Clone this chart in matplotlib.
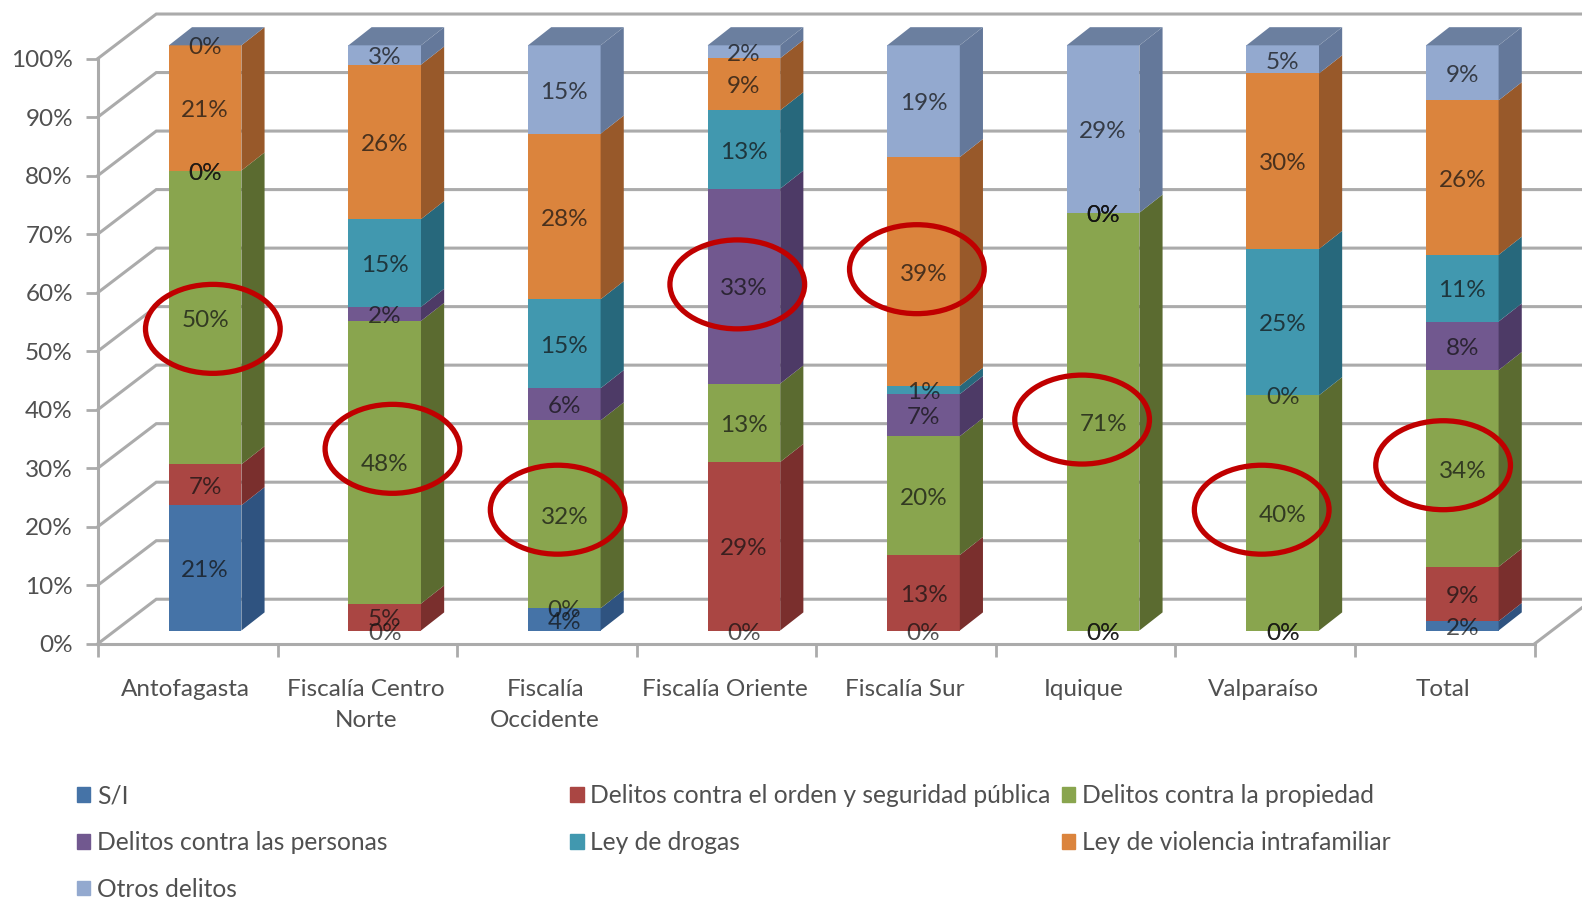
import matplotlib
matplotlib.use("Agg")
import matplotlib.pyplot as plt
from matplotlib.patches import Polygon, Ellipse, Patch
import numpy as np

plt.rcParams['font.family'] = ['Lato', 'DejaVu Sans']

# datos
fiscalias = ["Antofagasta", "Fiscalía Centro\nNorte", "Fiscalía\nOccidente", "Fiscalía Oriente",
             "Fiscalía Sur", "Iquique", "Valparaíso", "Total"]
sin_info = [21.4, 0, 3.8, 0, 0, 0, 0, 1.6]
orden = [7.0, 4.6, 0, 28.8, 12.9, 0, 0, 9.3]
propiedad = [50.2, 48.3, 32.1, 13.4, 20.3, 71.4, 40.2, 33.6]
personas = [0, 2.4, 5.5, 33.3, 7.2, 0, 0, 8.3]
drogas = [0, 15.0, 15.2, 13.4, 1.4, 0, 25.0, 11.4]
violencia = [21.4, 26.4, 28.3, 8.9, 39.1, 0, 30.0, 26.4]
otros = [0, 3.3, 15.1, 2.2, 19.1, 28.6, 4.8, 9.4]

nombres = ["S/I", "Delitos contra el orden y seguridad pública", "Delitos contra la propiedad",
           "Delitos contra las personas", "Ley de drogas", "Ley de violencia intrafamiliar", "Otros delitos"]
series = [sin_info, orden, propiedad, personas, drogas, violencia, otros]
colores = ["#4573A7", "#AA4643", "#89A54E", "#71588F", "#4198AF", "#DB843D", "#93A9CF"]
lados = ["#2F5380", "#7A2F2D", "#5B6B30", "#4D3A66", "#27687C", "#98592A", "#64789A"]

# circulos rojos (x categoria, y porcentaje)
circulo_x = [0.14, 1.14, 2.06, 3.06, 4.06, 4.98, 5.98, 6.99]
circulo_y = [53.8, 33.3, 22.9, 61.4, 64.0, 38.3, 22.9, 30.5]

# profundidad del falso 3D
prof_x, prof_y = 0.325, 7.6
barra_x, barra_y = 0.097, 2.25
lado_x, lado_y = 0.129, 3.1
ancho = 0.404
gris = "#ABABAB"

fig = plt.figure(figsize=(15.82, 9), dpi=100)
ax = fig.add_axes([97.9 / 1582, 1 - 643.7 / 900, (1534.7 - 97.9) / 1582, (643.7 - 58.5) / 900])
ax.set_xlim(-0.5, 7.5)
ax.set_ylim(0, 100)
ax.patch.set_alpha(0)

# paredes
for v in range(0, 101, 10):
    ax.plot([-0.5, -0.5 + prof_x, 7.5 + prof_x], [v, v + prof_y, v + prof_y], color=gris, lw=2.2,
            clip_on=False, zorder=1, solid_joinstyle="miter")
ax.plot([7.5, 7.5 + prof_x], [0, prof_y], color=gris, lw=2.2, clip_on=False, zorder=1)

# barras
x = np.arange(len(fiscalias))
base = np.zeros(len(fiscalias))
for valores, nombre, color, lado in zip(series, nombres, colores, lados):
    valores = np.array(valores, dtype=float)
    ax.bar(x + barra_x, valores, ancho, bottom=base + barra_y, color=color, zorder=3, clip_on=False)
    for i in x:
        x1 = i + barra_x + ancho / 2
        y0 = base[i] + barra_y
        y1 = y0 + valores[i]
        ax.add_patch(Polygon([(x1, y0), (x1 + lado_x, y0 + lado_y), (x1 + lado_x, y1 + lado_y), (x1, y1)],
                             closed=True, fc=lado, ec="none", zorder=3, clip_on=False))
        ax.text(i + barra_x, y0 + valores[i] / 2 - 0.45, "%d%%" % round(valores[i]), ha="center", va="center",
                fontsize=17.5, color="#111111", alpha=0.72, zorder=5, clip_on=False)
    base = base + valores

# tapa superior
for i in x:
    x0 = i + barra_x - ancho / 2
    x1 = i + barra_x + ancho / 2
    y0 = base[i] + barra_y
    ax.add_patch(Polygon([(x0, y0), (x1, y0), (x1 + lado_x, y0 + lado_y), (x0 + lado_x, y0 + lado_y)],
                         closed=True, fc="#6B7F9F", ec="none", zorder=3, clip_on=False))

for cx, cy in zip(circulo_x, circulo_y):
    ax.add_patch(Ellipse((cx, cy), 0.75, 15.2, fc="none", ec="#C00000", lw=3.8, zorder=6, clip_on=False))

# ejes
for s in ["top", "right"]:
    ax.spines[s].set_visible(False)
for s in ["left", "bottom"]:
    ax.spines[s].set_color(gris)
    ax.spines[s].set_linewidth(2.2)
ax.set_yticks(range(0, 101, 10))
ax.set_yticklabels(["%d%%" % v for v in range(0, 101, 10)])
ax.tick_params(axis="y", length=9, width=2, color=gris, labelcolor="#505050", labelsize=17.5, pad=9)
ax.set_xticks(np.arange(-0.5, 8, 1))
ax.set_xticklabels([])
ax.tick_params(axis="x", length=9, width=2, color=gris)
ax.set_xticks(x - 0.01, minor=True)
ax.set_xticklabels(fiscalias, minor=True, linespacing=1.6)
ax.tick_params(axis="x", which="minor", length=0, labelcolor="#505050", labelsize=17.5, pad=25.5)

# leyenda, una por columna porque las columnas no tienen el mismo hueco
handles = [Patch(color=c, label=n) for c, n in zip(colores, nombres)]
columnas = [([0, 3, 6], 76.7), ([1, 4], 570), ([2, 5], 1061.5)]
for idx, px in columnas:
    fig.legend([handles[i] for i in idx], [nombres[i] for i in idx], loc="upper left",
               bbox_to_anchor=(px / 1582, 1 - 784 / 900), frameon=False, fontsize=17.7,
               labelcolor="#505050", handlelength=0.55, handleheight=0.55, handletextpad=0.28,
               labelspacing=0.97, borderpad=0, borderaxespad=0)

fig.savefig("out.png", dpi=100)
